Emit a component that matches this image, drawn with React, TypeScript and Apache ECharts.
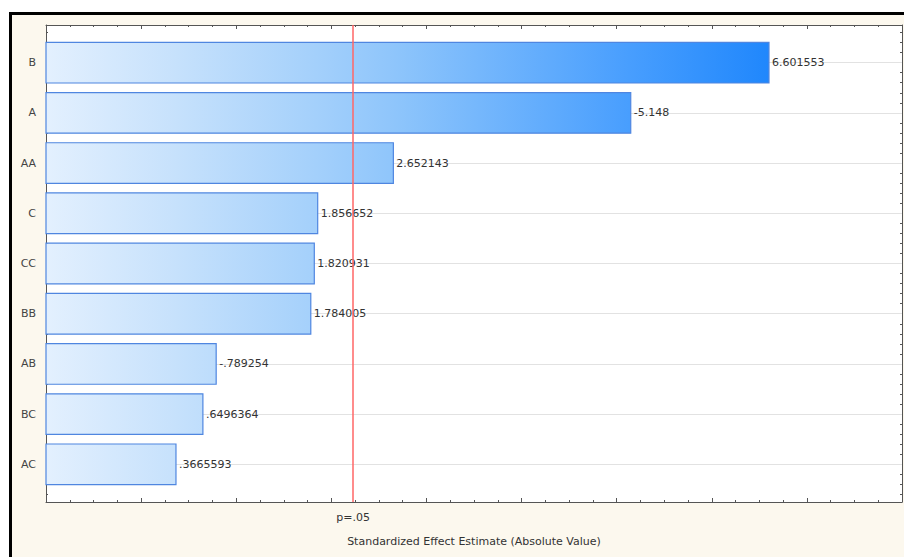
import React, { useEffect, useRef } from 'react';
import * as echarts from 'echarts';

const categories = ['B', 'A', 'AA', 'C', 'CC', 'BB', 'AB', 'BC', 'AC'];
const effects = [6.601553, -5.148, 2.652143, 1.856652, 1.820931, 1.784005, -0.789254, 0.6496364, 0.3665593];
const pCritical = 2.228139;
const pLabel = 'p=.05';
const axisTitle = 'Standardized Effect Estimate (Absolute Value)';

const X_MIN = -1;
const X_MAX = 8;
const Y_MIN = -0.75;
const Y_MAX = 8.75;

const FONT = '"DejaVu Sans", Arial, sans-serif';

function formatEffect(v: number): string {
  return String(v).replace(/^(-?)0\./, '$1.');
}

export default function App() {
  const ref = useRef<HTMLDivElement>(null);
  useEffect(() => {
    const chart = echarts.init(ref.current as HTMLDivElement, null, { renderer: 'svg' });

    const majorY = categories.map((_, i) => i);
    const minorY: number[] = [];
    for (let i = -1; i < categories.length; i++) {
      for (let j = 1; j < 5; j++) {
        const v = +(i + j * 0.2).toFixed(2);
        if (v > Y_MIN && v < Y_MAX) minorY.push(v);
      }
    }

    const gradient = new echarts.graphic.LinearGradient(
      46, 0, 775, 0,
      [
        { offset: 0, color: '#e3f0fe' },
        { offset: 0.18, color: '#c6e1fc' },
        { offset: 0.37, color: '#a4d0fb' },
        { offset: 0.48, color: '#8ec5fb' },
        { offset: 0.8, color: '#489efe' },
        { offset: 1, color: '#1e86fc' },
      ],
      true
    );

    const axisColor = '#555';
    const yFrameAxis = (position: string, ticks: number[], len: number, showLine: boolean) => ({
      gridIndex: 0,
      type: 'value',
      min: Y_MIN,
      max: Y_MAX,
      inverse: true,
      position,
      axisLine: { show: showLine, onZero: false, lineStyle: { color: axisColor, width: 1 } },
      axisTick: { show: true, inside: true, length: len, customValues: ticks, lineStyle: { color: axisColor } },
      axisLabel: { show: false },
      splitLine: { show: false },
    });
    const xFrameAxis = (position: string, extra: any) => ({
      gridIndex: 0,
      type: 'value',
      min: X_MIN,
      max: X_MAX,
      interval: 1,
      position,
      axisLine: { show: true, onZero: false, lineStyle: { color: axisColor, width: 1 } },
      axisTick: { show: true, inside: true, length: 4, lineStyle: { color: axisColor } },
      minorTick: { show: true, splitNumber: 4, length: 2, lineStyle: { color: axisColor } },
      splitLine: { show: false },
      minorSplitLine: { show: false },
      ...extra,
    });

    const option: any = {
      animation: false,
      backgroundColor: 'transparent',
      textStyle: { fontFamily: FONT },
      graphic: [
        {
          type: 'rect',
          z: -10,
          silent: true,
          shape: { x: 10.5, y: 13.5, width: 1000, height: 600 },
          style: { fill: '#fcf8ee', stroke: '#000', lineWidth: 3 },
        },
      ],
      grid: [
        { left: 46, right: 2, top: 25, height: 477, show: true, backgroundColor: '#fff', borderWidth: 0 },
        { left: 46, right: 2, top: 37.553, height: 451.895 },
      ],
      xAxis: [
        xFrameAxis('bottom', {
          axisLabel: {
            show: true,
            customValues: [pCritical],
            formatter: () => pLabel,
            margin: 10,
            color: '#333',
            fontSize: 11,
            fontFamily: FONT,
          },
          name: axisTitle,
          nameLocation: 'middle',
          nameGap: 34,
          nameTextStyle: { color: '#333', fontSize: 11, fontFamily: FONT },
        }),
        xFrameAxis('top', { axisLabel: { show: false } }),
        { gridIndex: 1, type: 'value', min: X_MIN, max: X_MAX, show: false },
      ],
      yAxis: [
        yFrameAxis('left', majorY, 4, true),
        yFrameAxis('left', minorY, 2, false),
        yFrameAxis('right', majorY, 4, true),
        yFrameAxis('right', minorY, 2, false),
        {
          gridIndex: 1,
          type: 'category',
          data: categories,
          inverse: true,
          axisLine: { show: false, onZero: false },
          axisTick: { show: false },
          splitLine: { show: false },
          axisLabel: { margin: 10, color: '#444', fontSize: 11, fontFamily: FONT },
        },
      ],
      series: [
        {
          type: 'custom',
          xAxisIndex: 2,
          yAxisIndex: 4,
          data: categories.map((_, i) => [Math.abs(effects[i]), i]),
          encode: { x: 0, y: 1 },
          renderItem: (params: any, api: any) => {
            const v = api.value(0);
            const ci = api.value(1);
            const start = api.coord([X_MIN, ci]);
            const end = api.coord([v, ci]);
            const h = api.size([0, 1])[1] * 0.81;
            return {
              type: 'group',
              children: [
                {
                  type: 'rect',
                  shape: { x: start[0], y: start[1] - h / 2, width: end[0] - start[0], height: h },
                  style: { fill: gradient, stroke: '#4f86e0', lineWidth: 1.2 },
                },
                {
                  type: 'text',
                  x: end[0] + 3,
                  y: end[1],
                  style: {
                    text: formatEffect(effects[params.dataIndex]),
                    fill: '#333',
                    fontSize: 11,
                    fontFamily: FONT,
                    verticalAlign: 'middle',
                    align: 'left',
                  },
                },
              ],
            };
          },
          markLine: {
            z: 1,
            silent: true,
            symbol: 'none',
            label: { show: false },
            lineStyle: { color: '#e2e2e2', width: 1.2, type: 'solid' },
            data: categories.map((c) => ({ yAxis: c })),
          },
        },
        {
          type: 'line',
          xAxisIndex: 0,
          yAxisIndex: 0,
          data: [],
          markLine: {
            z: 10,
            silent: true,
            symbol: 'none',
            label: { show: false },
            lineStyle: { color: '#ff6666', width: 1.5, type: 'solid' },
            data: [[{ coord: [pCritical, Y_MIN] }, { coord: [pCritical, Y_MAX] }]],
          },
        },
      ],
    };
    chart.setOption(option);
    return () => chart.dispose();
  }, []);
  return (
    <div
      ref={ref}
      style={{ position: 'fixed', left: 0, top: 0, width: 904, height: 557, background: '#fff' }}
    />
  );
}
